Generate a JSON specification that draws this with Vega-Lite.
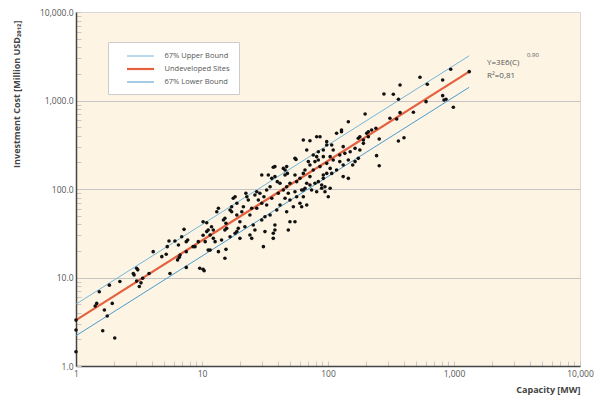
{
  "$schema": "https://vega.github.io/schema/vega-lite/v6.json",
  "width": 504,
  "height": 354,
  "autosize": "none",
  "padding": {"left": 76, "top": 12, "right": 15, "bottom": 39},
  "background": "white",
  "config": {
    "view": {"fill": "#fdf4e4", "stroke": "#d9d9d9", "strokeWidth": 1},
    "font": "Open Sans",
    "legend": {
      "fillColor": "white",
      "strokeColor": "#cccccc",
      "padding": 8.5,
      "symbolType": "M-2.7,0H2.7",
      "symbolSize": 100,
      "symbolOffset": 17.5,
      "labelFontSize": 7.5,
      "labelColor": "#555555",
      "rowPadding": 3,
      "labelOffset": 17.5
    }
  },
  "layer": [
    {
      "data": {
        "values": [
          {"x": 1, "y": 5.0, "s": "67% Upper Bound"},
          {"x": 1320, "y": 3200, "s": "67% Upper Bound"},
          {"x": 1, "y": 3.3, "s": "Undeveloped Sites"},
          {"x": 1320, "y": 2120, "s": "Undeveloped Sites"},
          {"x": 1, "y": 2.2, "s": "67% Lower Bound"},
          {"x": 1320, "y": 1410, "s": "67% Lower Bound"}
        ]
      },
      "mark": {"type": "line"},
      "encoding": {
        "x": {
          "field": "x", "type": "quantitative",
          "scale": {"type": "log", "domain": [1, 10000], "nice": false},
          "axis": {
            "title": "Capacity [MW]",
            "values": [1,2,3,4,5,6,7,8,9,10,20,30,40,50,60,70,80,90,100,200,300,400,500,600,700,800,900,1000,2000,3000,4000,5000,6000,7000,8000,9000,10000],
            "labelExpr": "indexof([1,10,100,1000,10000], datum.value) >= 0 ? format(datum.value, ',') : ''",
            "labelOverlap": false,
            "labelFlush": false,
            "grid": false,
            "tickSize": -5,
            "tickColor": "#c8c8c8",
            "domainColor": "#444444",
            "domainWidth": 1.5,
            "labelFontSize": 8.5,
            "labelColor": "#555555",
            "labelPadding": 8,
            "titleAnchor": "end",
            "titleFontSize": 9,
            "titleFontWeight": "bold",
            "titleColor": "#444444",
            "titlePadding": 8
          }
        },
        "y": {
          "field": "y", "type": "quantitative",
          "scale": {"type": "log", "domain": [1, 10000], "nice": false},
          "axis": {
            "title": "Investment Cost [Million USD₂₀₁₂]",
            "values": [1,2,3,4,5,6,7,8,9,10,20,30,40,50,60,70,80,90,100,200,300,400,500,600,700,800,900,1000,2000,3000,4000,5000,6000,7000,8000,9000,10000],
            "labelExpr": "indexof([1,10,100,1000,10000], datum.value) >= 0 ? format(datum.value, ',.1f') : ''",
            "labelOverlap": false,
            "labelFlush": false,
            "grid": true,
            "gridColor": {"condition": {"test": "indexof([10,100,1000], datum.value) >= 0", "value": "#c4c4c4"}, "value": "transparent"},
            "tickSize": -5,
            "tickColor": "#c8c8c8",
            "domainColor": "#444444",
            "domainWidth": 1.5,
            "labelFontSize": 8.5,
            "labelColor": "#555555",
            "labelPadding": 8,
            "titleX": -64,
            "titleY": 8,
            "titleAngle": 270,
            "titleAlign": "right",
            "titleBaseline": "top",
            "titleFontSize": 9,
            "titleFontWeight": "bold",
            "titleColor": "#444444"
          }
        },
        "detail": {"field": "s"},
        "color": {
          "field": "s", "type": "nominal",
          "scale": {"domain": ["67% Upper Bound", "Undeveloped Sites", "67% Lower Bound"], "range": ["#72b7d8", "#e4603e", "#4a9bcb"]},
          "legend": {"title": null, "orient": "none", "legendX": 32, "legendY": 30}
        },
        "strokeWidth": {
          "field": "s", "type": "nominal",
          "scale": {"type": "ordinal", "domain": ["67% Upper Bound", "Undeveloped Sites", "67% Lower Bound"], "range": [1, 2.2, 1]},
          "legend": {"title": null, "orient": "none", "legendX": 32, "legendY": 30}
        }
      }
    },
    {
      "data": {
        "values": [
          {"x":1,"y":3.3},{"x":1,"y":2.55},{"x":1,"y":1.45},{"x":1.42,"y":4.76},{"x":1.46,"y":5.1},{"x":1.53,"y":6.9},{"x":1.68,"y":4.3},{"x":1.63,"y":2.5},{"x":1.77,"y":3.67},{"x":1.84,"y":8.2},{"x":1.94,"y":5.1},{"x":2.03,"y":2.07},{"x":2.23,"y":9.0},{"x":2.85,"y":11.1},{"x":2.89,"y":10.7},{"x":3.03,"y":12.7},{"x":3.09,"y":12.2},{"x":3.03,"y":9.1},{"x":3.18,"y":7.9},{"x":3.28,"y":8.7},{"x":3.38,"y":9.8},{"x":3.8,"y":11.1},{"x":4.1,"y":19.6},{"x":4.8,"y":17.2},{"x":5.2,"y":18.3},{"x":5.57,"y":11.1},{"x":5.47,"y":25.8},{"x":5.3,"y":22.3},{"x":6.1,"y":25.8},{"x":6.5,"y":23.3},{"x":6.4,"y":15.8},{"x":6.6,"y":16.9},{"x":6.7,"y":17.9},{"x":6.9,"y":28.9},{"x":7.2,"y":35},{"x":7.5,"y":25.4},{"x":7.7,"y":26.5},{"x":7.5,"y":19.6},{"x":7.5,"y":13.0},{"x":8.8,"y":22.3},{"x":9.35,"y":25.4},{"x":9.6,"y":12.7},{"x":10.4,"y":11.9},{"x":10.2,"y":30},{"x":10.9,"y":33},{"x":11.2,"y":20.4},{"x":10.9,"y":41.6},
          {"x":10.2,"y":12.4},{"x":15.2,"y":16.5},{"x":15.5,"y":20.8},{"x":13.5,"y":19.6},{"x":11.6,"y":20.4},{"x":10.6,"y":25.4},{"x":12.3,"y":27.7},{"x":12.7,"y":25.4},{"x":11.2,"y":34.4},{"x":12.3,"y":34.4},{"x":10.2,"y":42.7},{"x":11.9,"y":37.5},{"x":13.1,"y":55.4},{"x":13.5,"y":60.5},{"x":14.8,"y":44.7},{"x":15.2,"y":46.7},{"x":15.5,"y":41},{"x":15.7,"y":35.9},{"x":16.7,"y":58},{"x":17.2,"y":63},{"x":17.2,"y":55.4},{"x":17.7,"y":78.5},{"x":18.3,"y":81.8},{"x":18.9,"y":68.9},{"x":18.3,"y":31.6},{"x":18.9,"y":33},{"x":19.4,"y":35.9},{"x":20.7,"y":55.4},{"x":21.3,"y":63},{"x":22.3,"y":89.4},{"x":22.7,"y":81.8},{"x":23.3,"y":75.2},{"x":24,"y":50.8},{"x":24.8,"y":60.5},{"x":24,"y":30.2},{"x":24.8,"y":27.7},{"x":26.3,"y":34.4},{"x":26.3,"y":85.5},{"x":27.2,"y":93},{"x":28,"y":75.2},{"x":28.8,"y":89.4},{"x":29.8,"y":68.9},{"x":29.8,"y":44.7},{"x":30.7,"y":22.3},{"x":31.6,"y":48.6},{"x":31,"y":81.8},{"x":32.6,"y":65.9},{"x":32.6,"y":97.5},{"x":34.7,"y":106},{"x":35.8,"y":78.5},{"x":34.7,"y":50.8},{"x":37.9,"y":34.4},{"x":37.9,"y":39.2},{"x":36.8,"y":31.6},{"x":36.8,"y":27.7},{"x":39.2,"y":58},{"x":40.3,"y":89.4},{"x":41.6,"y":65.9},{"x":37.9,"y":138},{"x":36.8,"y":176},{"x":37.9,"y":179},{"x":33.6,"y":144},{"x":29.8,"y":144},{"x":35.8,"y":132},{"x":39.6,"y":121},{"x":44.2,"y":171},{"x":45.6,"y":164},{"x":47,"y":179},{"x":47.6,"y":150},{"x":45.6,"y":144},{"x":44.2,"y":97.5},{"x":47,"y":106},{"x":48.4,"y":89.4},{"x":45.6,"y":78.5},{"x":49.9,"y":75.2},{"x":47,"y":55.4},{"x":48.4,"y":34.4},{"x":55.7,"y":216},{"x":54.7,"y":144},{"x":56.4,"y":121},{"x":56.4,"y":81.8},{"x":59.9,"y":68.9},{"x":54.7,"y":42.7},{"x":61.8,"y":63},{"x":63.7,"y":97.5},{"x":67.8,"y":116},{"x":65.7,"y":164},{"x":69.8,"y":204},{"x":71.9,"y":187},{"x":71.9,"y":138},{"x":76.4,"y":164},{"x":78.8,"y":116},{"x":81.3,"y":232},{"x":83.8,"y":213},{"x":86.4,"y":179},{"x":89.1,"y":111},{"x":91.8,"y":144},{"x":97.7,"y":195},{"x":100.5,"y":81.8},{"x":94.6,"y":93},{"x":81.3,"y":93},{"x":74.1,"y":97.5},{"x":8.5,"y":22.3},{"x":11.6,"y":30.2},{"x":15.2,"y":34.4},{"x":20,"y":27.7},{"x":25.5,"y":39.2},{"x":31.6,"y":33},{"x":20,"y":42.7},{"x":21.9,"y":37.5},{"x":16.7,"y":28.9},{"x":14.3,"y":26.5},{"x":18.9,"y":50.8},{"x":27.2,"y":60.5},{"x":53.1,"y":63},{"x":49.9,"y":116},{"x":41.6,"y":116},{"x":63.7,"y":81.8},{"x":67.8,"y":65.9},{"x":49.9,"y":42.7},
          {"x":145,"y":575},{"x":71.9,"y":351},{"x":81.3,"y":390},{"x":86.4,"y":390},{"x":117,"y":426},{"x":128,"y":444},{"x":97.7,"y":314},{"x":107,"y":314},{"x":110,"y":276},{"x":91.8,"y":276},{"x":83.8,"y":264},{"x":76.4,"y":242},{"x":54.7,"y":222},{"x":78.8,"y":204},{"x":91.8,"y":232},{"x":104,"y":232},{"x":124,"y":242},{"x":136,"y":253},{"x":150,"y":264},{"x":164,"y":288},{"x":179,"y":276},{"x":191,"y":328},{"x":174,"y":374},{"x":203,"y":426},{"x":209,"y":390},{"x":132,"y":301},{"x":145,"y":213},{"x":132,"y":187},{"x":124,"y":204},{"x":110,"y":213},{"x":104,"y":171},{"x":117,"y":164},{"x":107,"y":150},{"x":97.7,"y":150},{"x":91.8,"y":132},{"x":83.8,"y":121},{"x":132,"y":138},{"x":145,"y":132},{"x":164,"y":204},{"x":174,"y":222},{"x":157,"y":187},{"x":63.7,"y":150},{"x":59.9,"y":132},{"x":65.7,"y":102},{"x":71.9,"y":111},{"x":89.1,"y":102},{"x":94.6,"y":106},{"x":104,"y":102},{"x":54.7,"y":93},{"x":61.8,"y":97.5},
          {"x":537,"y":1828},{"x":942,"y":2254},{"x":1321,"y":2118},{"x":373,"y":1496},{"x":614,"y":1524},{"x":813,"y":1706},{"x":278,"y":1183},{"x":330,"y":1175},{"x":362,"y":1033},{"x":600,"y":971},{"x":813,"y":1135},{"x":833,"y":1014},{"x":864,"y":1033},{"x":988,"y":838},{"x":373,"y":729},{"x":310,"y":630},{"x":351,"y":618},{"x":476,"y":736},{"x":197,"y":703},{"x":362,"y":349},{"x":401,"y":380},{"x":240,"y":485},{"x":209,"y":444},{"x":255,"y":367},{"x":243,"y":238},{"x":255,"y":183},{"x":128,"y":464},{"x":179,"y":390},{"x":191,"y":358},{"x":222,"y":464},
          {"x":97.7,"y":343},{"x":63.7,"y":358},{"x":67.8,"y":276}
        ]
      },
      "mark": {"type": "circle", "size": 13, "color": "#111111", "opacity": 1},
      "encoding": {
        "x": {"field": "x", "type": "quantitative"},
        "y": {"field": "y", "type": "quantitative"}
      }
    },
    {
      "data": {
        "values": [
          {"x": 1828, "y": 2655, "t": "Y=3E6(C)"},
          {"x": 1828, "y": 1892, "t": "R²=0,81"}
        ]
      },
      "mark": {"type": "text", "align": "left", "baseline": "middle", "fontSize": 8, "color": "#555555"},
      "encoding": {
        "x": {"field": "x", "type": "quantitative"},
        "y": {"field": "y", "type": "quantitative"},
        "text": {"field": "t"}
      }
    },
    {
      "data": {"values": [{"x": 3795, "y": 3266, "t": "0.90"}]},
      "mark": {"type": "text", "align": "left", "baseline": "middle", "fontSize": 6, "color": "#555555"},
      "encoding": {
        "x": {"field": "x", "type": "quantitative"},
        "y": {"field": "y", "type": "quantitative"},
        "text": {"field": "t"}
      }
    }
  ]
}
